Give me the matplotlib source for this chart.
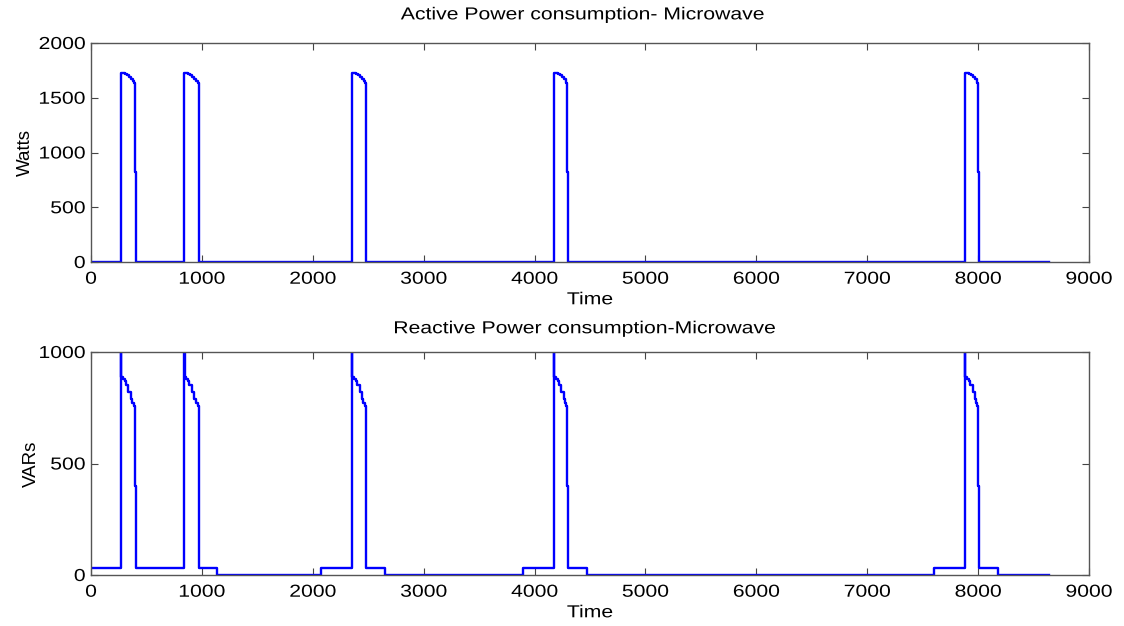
import matplotlib
matplotlib.use("Agg")
import matplotlib.pyplot as plt
from matplotlib.patheffects import AbstractPathEffect
from matplotlib.transforms import Affine2D

# Time axis (sample index) and length of the record
t_end = 8640

# Switch-on / switch-off sample of every heating cycle
on_times = [268, 838, 2352, 4172, 7880]
off_times = [402, 975, 2482, 4298, 8005]

# Windows where the oven sits in standby (door light / fan)
standby_start = [0, 2071, 3898, 7604]
standby_stop = [1133, 2651, 4475, 8176]

active_standby_w = 3
reactive_standby_var = 30

# Active power levels inside a cycle, keyed by samples after switch-on
active_step_offsets = [0, 2, 40, 55, 75, 95, 110]
active_step_watts = [1010, 1725, 1720, 1705, 1690, 1670, 1650]
active_end_watts = 1635
active_fall_watts = 820

# Reactive power levels inside a cycle, keyed by samples after switch-on
reactive_step_offsets = [0, 2, 6, 20, 35, 50, 70, 90, 105]
reactive_step_vars = [520, 1150, 890, 880, 870, 850, 820, 790, 770]
reactive_end_vars = 760
reactive_fall_vars = 400

x_ticks = [0, 1000, 2000, 3000, 4000, 5000, 6000, 7000, 8000, 9000]
active_y_ticks = [0, 500, 1000, 1500, 2000]
reactive_y_ticks = [0, 500, 1000]


def step_signal(offsets, levels, end_level, fall_level, standby_level):
    events = []
    for a, b in zip(standby_start, standby_stop):
        events.append((a, 0, standby_level))
        events.append((b, 0, 0))
    for on, off in zip(on_times, off_times):
        for o, v in zip(offsets, levels):
            events.append((on + o, 1, v))
        events.append((off - 12, 1, end_level))
        events.append((off - 2, 1, fall_level))
        events.append((off, 1, standby_level))
    events.sort(key=lambda e: (e[0], e[1]))
    ts, vs = [], []
    for t, _, v in events:
        if ts and ts[-1] == t:
            vs[-1] = v
        else:
            ts.append(t)
            vs.append(v)
    ts.append(t_end)
    vs.append(vs[-1])
    return ts, vs


class Widen(AbstractPathEffect):
    """Draw text horizontally widened about its centre or right edge."""

    def __init__(self, sx=1.2, anchor='center'):
        super().__init__()
        self.sx = sx
        self.anchor = anchor

    def draw_path(self, renderer, gc, tpath, affine, rgbFace=None):
        ext = tpath.get_extents(affine)
        x0 = ext.x1 if self.anchor == 'right' else 0.5 * (ext.x0 + ext.x1)
        extra = Affine2D().translate(-x0, 0).scale(self.sx, 1.0).translate(x0, 0)
        renderer.draw_path(gc, tpath, affine + extra, rgbFace)


plt.rcParams['font.family'] = ['Liberation Sans', 'DejaVu Sans']
fig = plt.figure(figsize=(11.24, 6.26), dpi=100)

line_kw = dict(color=(0, 0, 1), lw=1.7, drawstyle='steps-post')
spine_col = '#555555'
fs = 12.5
sx = 1.22


def style(ax):
    ax.tick_params(direction='in', top=True, right=True, length=5,
                   labelsize=fs, color='#444444', pad=7)
    for s in ax.spines.values():
        s.set_color(spine_col)
        s.set_linewidth(1.0)
    ax.set_xlim(0, 9000)
    ax.set_xticks(x_ticks)
    ax.set_xlabel('Time', fontsize=fs, labelpad=4,
                  path_effects=[Widen(sx)])
    for lab in ax.get_xticklabels():
        lab.set_path_effects([Widen(sx)])
    ax.tick_params(axis='y', pad=4)
    for lab in ax.get_yticklabels():
        lab.set_path_effects([Widen(sx, 'right')])


ax1 = fig.add_axes([91 / 1124, 1 - 262 / 626, 998 / 1124, 219 / 626])
t1, p1 = step_signal(active_step_offsets, active_step_watts,
                     active_end_watts, active_fall_watts, active_standby_w)
ax1.plot(t1, p1, **line_kw)
ax1.set_ylim(0, 2000)
ax1.set_yticks(active_y_ticks)
style(ax1)
ax1.set_ylabel('Watts', fontsize=fs + 1, labelpad=9)
ax1.set_title('Active Power consumption- Microwave', fontsize=fs, pad=17,
              x=0.493, path_effects=[Widen(sx)])

ax2 = fig.add_axes([91 / 1124, 1 - 575 / 626, 998 / 1124, 223 / 626])
t2, q2 = step_signal(reactive_step_offsets, reactive_step_vars,
                     reactive_end_vars, reactive_fall_vars, reactive_standby_var)
ax2.plot(t2, q2, **line_kw)
ax2.set_ylim(0, 1000)
ax2.set_yticks(reactive_y_ticks)
style(ax2)
ax2.set_ylabel('VARs', fontsize=fs + 1, labelpad=5)
ax2.set_title('Reactive Power consumption-Microwave', fontsize=fs, pad=13.5,
              x=0.495, path_effects=[Widen(sx)])

fig.savefig('out.png', dpi=100)
